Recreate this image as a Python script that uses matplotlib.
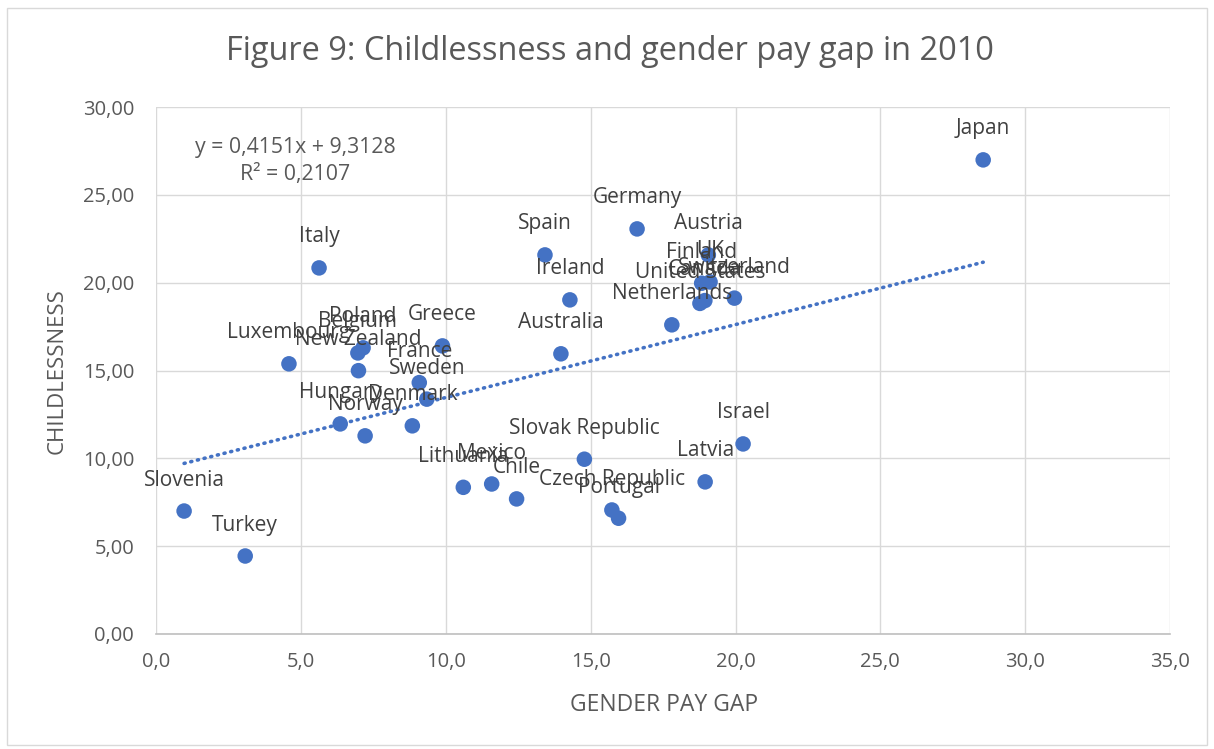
import matplotlib
matplotlib.use("Agg")
import matplotlib.pyplot as plt
from matplotlib.patches import Rectangle
import numpy as np

countries = ["Slovenia", "Turkey", "Italy", "Luxembourg", "Poland", "Belgium",
             "New Zealand", "Greece", "France", "Sweden", "Denmark", "Hungary",
             "Norway", "Lithuania", "Mexico", "Chile", "Slovak Republic",
             "Czech Republic", "Portugal", "Latvia", "Israel", "Japan", "Spain",
             "Germany", "Ireland", "Australia", "Netherlands", "Austria", "UK",
             "Finland", "Switzerland", "United States", "Canada"]
pay_gap = [0.96, 3.07, 5.62, 4.58, 7.14, 6.96,
           6.98, 9.88, 9.08, 9.34, 8.84, 6.35,
           7.21, 10.60, 11.58, 12.44, 14.78,
           15.73, 15.96, 18.95, 20.26, 28.55, 13.42,
           16.60, 14.28, 13.97, 17.80, 19.06, 19.12,
           18.83, 19.96, 18.77, 18.94]
childlessness = [7.00, 4.44, 20.84, 15.38, 16.29, 16.00,
                 14.99, 16.40, 14.31, 13.37, 11.85, 11.96,
                 11.28, 8.35, 8.54, 7.69, 9.95,
                 7.06, 6.59, 8.66, 10.82, 26.99, 21.58,
                 23.06, 19.02, 15.95, 17.60, 21.58, 20.04,
                 19.97, 19.12, 18.82, 18.98]

slope, intercept = 0.4151, 9.3128
r_squared = 0.2107

x_ticks = [0, 5, 10, 15, 20, 25, 30, 35]
y_ticks = [0, 5, 10, 15, 20, 25, 30]

blue = "#4472C4"
grey_text = "#595959"
grid_col = "#D9D9D9"
font = ["Open Sans", "DejaVu Sans"]

def comma(v, dec):
    return f"{v:.{dec}f}".replace(".", ",")

W, H = 1214, 749
fig = plt.figure(figsize=(W / 100, H / 100), dpi=100)
fig.patch.set_facecolor("white")
fig.patches.append(Rectangle((7 / W, 4 / H), 1200 / W, 737 / H,
                             transform=fig.transFigure, fill=False,
                             edgecolor="#D9D9D9", linewidth=1.0))

ax = fig.add_axes([156.3 / W, (H - 634) / H, (1170 - 156.3) / W, (634 - 107) / H])
ax.set_xlim(0, 35)
ax.set_ylim(0, 30)
ax.set_xticks(x_ticks)
ax.set_yticks(y_ticks)
ax.set_xticklabels([comma(v, 1) for v in x_ticks], fontsize=14.5, color=grey_text, family=font)
ax.set_yticklabels([comma(v, 2) for v in y_ticks], fontsize=14.5, color=grey_text, family=font)
ax.tick_params(axis="x", length=0, pad=13)
ax.tick_params(axis="y", length=0, pad=16)
ax.grid(True, color=grid_col, linewidth=1.0)
ax.set_axisbelow(True)
for side in ("top", "right", "left"):
    ax.spines[side].set_visible(False)
ax.spines["bottom"].set_color("#BFBFBF")
ax.spines["bottom"].set_linewidth(1.2)

# trend line from the fitted coefficients
xs = np.array([min(pay_gap), max(pay_gap)])
ax.plot(xs, slope * xs + intercept, color=blue, linewidth=2.6,
        linestyle=(0, (0.3, 1.6)), dash_capstyle="round", zorder=2)

ax.scatter(pay_gap, childlessness, s=125, color=blue, edgecolors="none", zorder=3)

for name, x, y in zip(countries, pay_gap, childlessness):
    ax.annotate(name, (x, y), xytext=(0, 22.3), textcoords="offset points",
                ha="center", va="center", fontsize=15, color="#404040",
                family=font, zorder=4)

ax.text(4.79, 27.7, f"y = {comma(slope, 4)}x + {comma(intercept, 4)}",
        ha="center", va="center", fontsize=15.3, color=grey_text, family=font)
ax.text(4.79, 26.15, f"R² = {comma(r_squared, 4)}",
        ha="center", va="center", fontsize=15.3, color=grey_text, family=font)

fig.text(664 / W, 1 - 705 / H, "GENDER PAY GAP", ha="center", va="center",
         fontsize=16.5, color=grey_text, family=font)
fig.text(57 / W, 1 - 371 / H, "CHILDLESSNESS", ha="center", va="center",
         rotation=90, fontsize=16, color=grey_text, family=font)

fig.text(610 / W, 1 - 52 / H, "Figure 9: Childlessness and gender pay gap in 2010",
         ha="center", va="center", fontsize=23.4, color=grey_text, family=font)

fig.savefig("out.png", dpi=100)
